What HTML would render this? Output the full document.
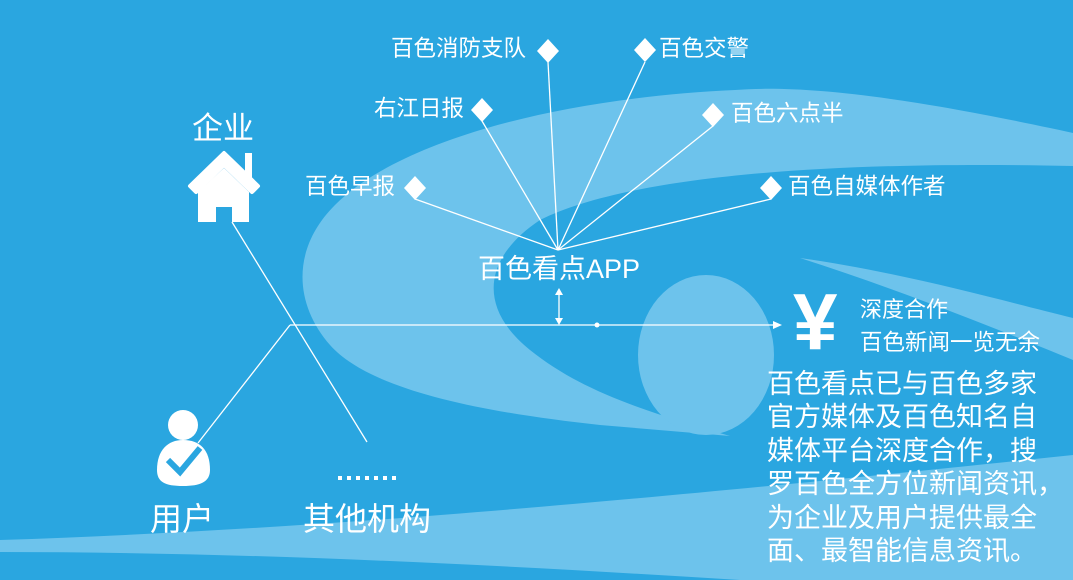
<!DOCTYPE html>
<html><head><meta charset="utf-8"><style>
body{margin:0}
#c{position:relative;width:1073px;height:580px;overflow:hidden;background:#2aa6e0;font-family:"Liberation Sans","Noto Sans CJK SC",sans-serif;color:#fff}
.t{position:absolute;white-space:nowrap;line-height:1}
</style></head><body><div id="c">
<svg width="1073" height="580" style="position:absolute;left:0;top:0">
<g fill="#6dc3ec">
<path d="M1073 133 C900 95 800 85 735 90 C560 98 400 140 335 205 C290 250 295 305 330 345 C370 390 480 412 600 425 L730 436 C640 410 580 390 530 350 C480 310 480 260 540 220 C620 180 800 160 1073 166 Z"/>
<ellipse cx="706" cy="355" rx="68" ry="80"/>
<path d="M800 258 C900 272 1000 300 1073 318 L1073 360 C1000 330 900 290 800 258 Z"/>
<path d="M0 540 C300 530 600 505 1073 455 L1073 580 L740 580 C500 565 250 552 0 552 Z"/>
</g>
<g stroke="#fff" stroke-width="1.3" fill="none">
<line x1="232" y1="222" x2="367" y2="442"/>
<line x1="290" y1="325" x2="198" y2="443"/>
<line x1="290" y1="325" x2="775" y2="325"/>
<line x1="559" y1="292" x2="559" y2="320"/>
<line x1="558" y1="250" x2="548" y2="62"/>
<line x1="558" y1="250" x2="645" y2="62"/>
<line x1="558" y1="250" x2="482" y2="121"/>
<line x1="558" y1="250" x2="713" y2="126"/>
<line x1="558" y1="250" x2="415" y2="199"/>
<line x1="558" y1="250" x2="771" y2="199"/>
</g>
<g fill="#fff">
<path d="M782 325 L773 321 L773 329 Z"/>
<path d="M559 288 L555 295 L563 295 Z"/><path d="M559 325 L555 318 L563 318 Z"/>
<circle cx="597" cy="325" r="2.5"/>
<path d="M548 39 L559 51 L548 63 L537 51 Z"/>
<path d="M645 38 L656 50 L645 62 L634 50 Z"/>
<path d="M482 98 L493 110 L482 122 L471 110 Z"/>
<path d="M713 103 L724 115 L713 127 L702 115 Z"/>
<path d="M415 176 L426 188 L415 200 L404 188 Z"/>
<path d="M771 176 L782 188 L771 200 L760 188 Z"/>
<path d="M224 153 L258 186 L252 192 L224 165 L196 192 L190 186 Z" stroke="#fff" stroke-width="4" stroke-linejoin="round"/>
<rect x="245" y="153" width="7" height="25"/>
<path d="M224 168 L249 192 L249 222 L232 222 L232 207 L216 207 L216 222 L198 222 L198 192 Z"/>
<circle cx="183" cy="425" r="15"/>
<path d="M157 470 C157 450 168 440 183 440 C200 440 210 450 210 470 C210 482 200 486 183 486 C165 486 157 482 157 470 Z"/>
<rect x="338" y="476" width="4" height="4"/><rect x="347" y="476" width="4" height="4"/><rect x="356" y="476" width="4" height="4"/><rect x="365" y="476" width="4" height="4"/><rect x="374" y="476" width="4" height="4"/><rect x="383" y="476" width="4" height="4"/><rect x="392" y="476" width="4" height="4"/>
</g>
<path d="M168 460 L180 472 L200 448" stroke="#2aa6e0" stroke-width="6" fill="none"/>
</svg>
<div class="t" style="left:192px;top:113px;font-size:31px">企业</div>
<div class="t" style="left:150px;top:503px;font-size:32px">用户</div>
<div class="t" style="left:303px;top:503px;font-size:32px">其他机构</div>
<div class="t" style="left:391px;top:38px;font-size:22.5px">百色消防支队</div>
<div class="t" style="left:659px;top:38px;font-size:22.5px">百色交警</div>
<div class="t" style="left:374px;top:98px;font-size:22.5px">右江日报</div>
<div class="t" style="left:731px;top:103px;font-size:22.5px">百色六点半</div>
<div class="t" style="left:305px;top:176px;font-size:22.5px">百色早报</div>
<div class="t" style="left:788px;top:176px;font-size:22.5px">百色自媒体作者</div>
<div class="t" style="left:478px;top:256px;font-size:27px">百色看点APP</div>
<div class="t" style="left:793px;top:282px;font-size:80px;font-weight:bold">¥</div>
<div class="t" style="left:860px;top:299px;font-size:22px">深度合作</div>
<div class="t" style="left:860px;top:332px;font-size:22.5px">百色新闻一览无余</div>
<div class="t" style="left:767px;top:368px;font-size:27px;line-height:33.4px">百色看点已与百色多家<br>官方媒体及百色知名自<br>媒体平台深度合作，搜<br>罗百色全方位新闻资讯，<br>为企业及用户提供最全<br>面、最智能信息资讯。</div>
</div></body></html>
